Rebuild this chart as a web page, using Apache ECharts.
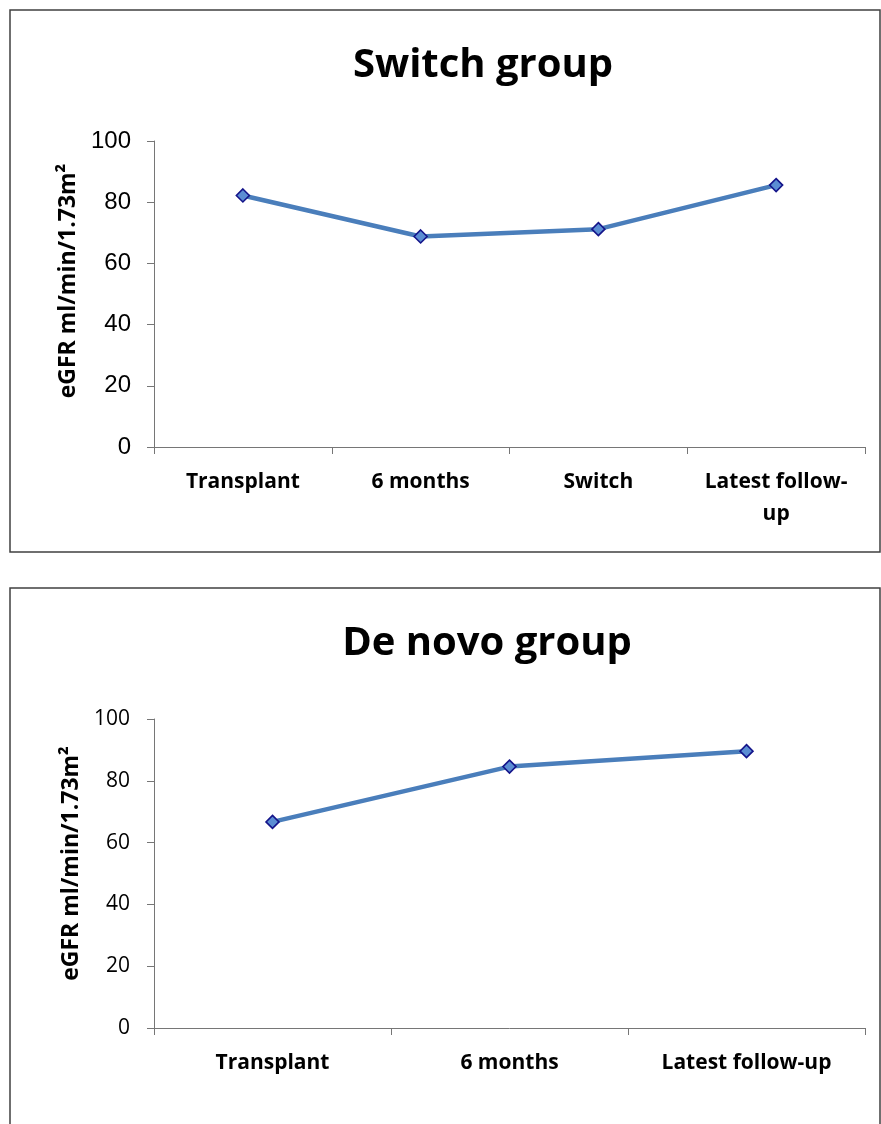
<!DOCTYPE html>
<html>
<head>
<meta charset="utf-8">
<script src="https://cdn.jsdelivr.net/npm/echarts@6/dist/echarts.min.js"></script>
<style>
  html, body { margin: 0; padding: 0; background: #fff; }
  #chart { width: 881px; height: 1124px; }
</style>
</head>
<body>
<div id="chart"></div>
<script>
// eGFR over time, two patient groups
const switchTitle = 'Switch group';
const switchCategories = ['Transplant', '6 months', 'Switch', 'Latest follow-up'];
const switchEgfr = [82.2, 68.8, 71.2, 85.6];

const deNovoTitle = 'De novo group';
const deNovoCategories = ['Transplant', '6 months', 'Latest follow-up'];
const deNovoEgfr = [66.7, 84.6, 89.6];

const yAxisTitle = 'eGFR ml/min/1.73m\u00B2';
const yMin = 0, yMax = 100, yStep = 20;

const axisGray = '#767676';
const lineBlue = '#4a7ebb';
const markerFill = '#5b8dd3';
const markerEdge = '#14148a';
const sansBold = '"Open Sans", "Noto Sans", sans-serif';

function categoryAxis(gridIndex, cats, margin, wrapLong) {
  return {
    type: 'category', gridIndex, data: cats, boundaryGap: true,
    axisLine: { show: true, lineStyle: { color: axisGray, width: 1 } },
    axisTick: { show: true, length: 7, alignWithLabel: false, lineStyle: { color: axisGray } },
    axisLabel: {
      margin, color: '#000', fontFamily: sansBold, fontWeight: 'bold', fontSize: 21,
      lineHeight: 32, interval: 0,
      formatter: v => wrapLong ? v.replace('follow-up', 'follow-\nup') : v
    },
    splitLine: { show: false }
  };
}

function valueAxis(gridIndex, font, size, labelMargin, nameGap, shiftUp) {
  return {
    type: 'value', gridIndex, min: yMin, max: yMax, interval: yStep,
    name: yAxisTitle, nameLocation: 'middle', nameGap,
    nameTextStyle: {
      fontFamily: sansBold, fontWeight: 'bold', fontSize: 23, color: '#000',
      padding: [0, 0, 0, shiftUp * 2]
    },
    axisLine: { show: true, lineStyle: { color: axisGray, width: 1 } },
    axisTick: { show: true, length: 7, lineStyle: { color: axisGray } },
    axisLabel: { margin: labelMargin, color: '#000', fontFamily: font, fontSize: size },
    splitLine: { show: false }
  };
}

function lineSeries(idx, values) {
  return {
    type: 'line', xAxisIndex: idx, yAxisIndex: idx, data: values,
    symbol: 'diamond', symbolSize: 13, showAllSymbol: true,
    lineStyle: { color: lineBlue, width: 4.5 },
    itemStyle: { color: markerFill, borderColor: markerEdge, borderWidth: 1.6 },
    emphasis: { disabled: true },
    animation: false, z: 3
  };
}

const chart = echarts.init(document.getElementById('chart'), null, { renderer: 'canvas' });
chart.setOption({
  backgroundColor: '#fff',
  animation: false,
  grid: [
    { left: 154, right: 16, top: 141, height: 306 },
    { left: 154, right: 16, top: 719, height: 309 }
  ],
  xAxis: [
    categoryAxis(0, switchCategories, 19, true),
    categoryAxis(1, deNovoCategories, 19, false)
  ],
  yAxis: [
    valueAxis(0, '"Liberation Sans", Arial, sans-serif', 24, 23, 64, 13),
    valueAxis(1, '"Open Sans", sans-serif', 21, 24, 68, 10)
  ],
  series: [lineSeries(0, switchEgfr), lineSeries(1, deNovoEgfr)],
  graphic: [
    // panel frames
    { type: 'rect', shape: { x: 10, y: 10, width: 870, height: 542 },
      style: { fill: null, stroke: '#404040', lineWidth: 1.5 }, silent: true },
    { type: 'rect', shape: { x: 10, y: 588, width: 870, height: 560 },
      style: { fill: null, stroke: '#404040', lineWidth: 1.5 }, silent: true },
    // panel titles
    { type: 'text', x: 483, y: 66,
      style: { text: switchTitle, fontFamily: sansBold, fontWeight: 'bold', fontSize: 40,
               fill: '#000', align: 'center', verticalAlign: 'middle' }, silent: true },
    { type: 'text', x: 487, y: 644,
      style: { text: deNovoTitle, fontFamily: sansBold, fontWeight: 'bold', fontSize: 40,
               fill: '#000', align: 'center', verticalAlign: 'middle' }, silent: true }
  ]
});
</script>
</body>
</html>
